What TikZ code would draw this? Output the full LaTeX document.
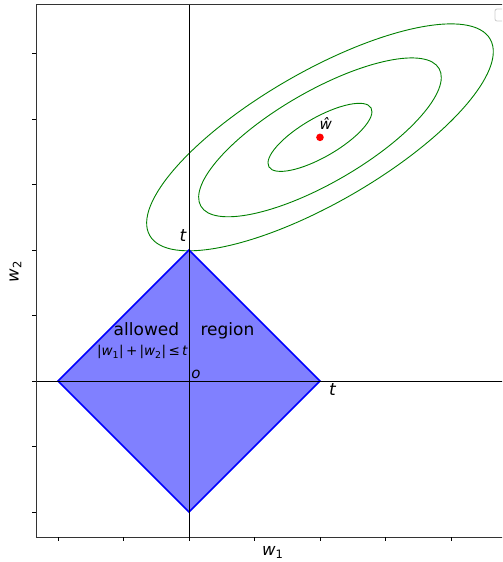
\documentclass[tikz,border=0pt]{standalone}
\usepackage{fontspec}
\setmainfont{DejaVu Sans}
\begin{document}
\begin{tikzpicture}[x=65.5pt,y=65.5pt,
  spine/.style={black!80, line width=0.8pt},
  tickmark/.style={black, line width=0.8pt},
  axisline/.style={black, line width=0.9pt},
  contour/.style={draw=green!50!black, line width=0.9pt},
  region/.style={fill=blue!50, draw=blue, line width=1.5pt},
  big/.style={inner sep=0pt, anchor=base, font=\fontsize{17}{18}\selectfont},
  small/.style={inner sep=0pt, anchor=base, font=\fontsize{15}{16}\selectfont},
  formula/.style={inner sep=0pt, anchor=base, font=\fontsize{13.5}{15}\selectfont},
  axlabel/.style={inner sep=0pt, anchor=base, font=\fontsize{16.5}{18}\selectfont}]
\useasboundingbox (-2.885,-2.763) rectangle (4.779,5.817);
\begin{scope}
\clip (-2.885,-2.763) rectangle (4.779,5.817);
% contours
\coordinate (c) at (2,3.72);
\draw[contour, rotate around={30:(c)}] (c) ellipse [x radius=196.5pt, y radius=65.5pt];
\draw[contour, rotate around={30:(c)}] (c) ellipse [x radius=137.55pt, y radius=45.85pt];
\draw[contour, rotate around={30:(c)}] (c) ellipse [x radius=58.95pt, y radius=19.65pt];
% allowed region
\coordinate (L) at (-2,0);
\coordinate (R) at (2,0);
\coordinate (T) at (0,2);
\coordinate (B) at (0,-2);
\filldraw[region] (L) -- (T) -- (R) -- (B) -- cycle;
% axis lines
\coordinate (xl) at (-2.336,0);
\coordinate (xr) at (4.9,0);
\coordinate (yt) at (0,5.756);
\coordinate (yb) at (0,-2.382);
\draw[axisline] (xl) -- (xr);
\draw[axisline] (yt) -- (yb);
% spines
\coordinate (tr) at (4.9,5.756);
\coordinate (tl) at (-2.336,5.756);
\coordinate (bl) at (-2.336,-2.382);
\coordinate (br) at (4.9,-2.382);
\draw[spine] (tr) -- (tl) -- (bl) -- (br);
% ticks
\foreach \x in {-2,...,4} \draw[tickmark] (\x,-2.382) -- ++(0,-3.5pt);
\foreach \y in {-2,...,5} \draw[tickmark] (-2.336,\y) -- ++(-3.5pt,0);
% legend fragment
\draw[black!20, line width=0.8pt, rounded corners=2pt, fill=white] (4.672,5.496) rectangle (4.95,5.679);
% optimum
\fill[red] (c) circle (3.8pt);
\end{scope}
% labels
\node[small] (what) at (2.09,3.84) {\itshape ŵ};
\node[big] (tt) at (-0.09,2.127) {\itshape t};
\node[big] (tr2) at (2.19,-0.214) {\itshape t};
\node[small, anchor=base west] (o) at (0.035,0.046) {\itshape o};
\node[big] (allowed) at (-0.649,0.702) {allowed};
\node[big] (region) at (0.588,0.702) {region};
\node[formula] (cons) at (-0.71,0.382) {|\textit{w}\textsubscript{1}|\,+\,|\textit{w}\textsubscript{2}|\,≤\,\textit{t}};
\node[axlabel] (w1) at (1.28,-2.667) {\textit{w}\textsubscript{1}};
\node[axlabel, rotate=90] (w2) at (-2.60,1.669) {\textit{w}\textsubscript{2}};
\end{tikzpicture}
\end{document}
